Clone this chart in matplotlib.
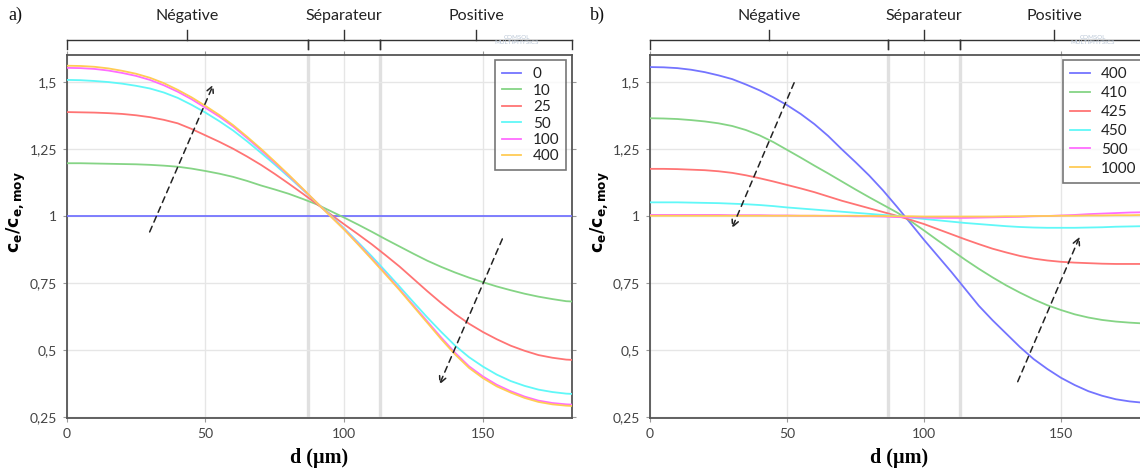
import matplotlib
matplotlib.use("Agg")
import matplotlib.pyplot as plt
from matplotlib.transforms import blended_transform_factory

plt.rcParams['font.family'] = ['Lato', 'DejaVu Sans']
plt.rcParams['mathtext.fontset'] = 'dejavusans'

# ---------------- data ----------------
d = [0, 5, 10, 15, 20, 25, 30, 35, 40, 45, 50, 55, 60, 65, 70, 75, 80, 85, 90, 95,
     100, 105, 110, 115, 120, 125, 130, 135, 140, 145, 150, 155, 160, 165, 170, 175, 180, 182]

# panel a) : times 0..400 s
a_labels = ['0', '10', '25', '50', '100', '400']
a_t0 = [1.0, 1.0, 1.0, 1.0, 1.0, 1.0, 1.0, 1.0, 1.0, 1.0, 1.0, 1.0, 1.0, 1.0, 1.0, 1.0, 1.0, 1.0, 1.0, 1.0,
        1.0, 1.0, 1.0, 1.0, 1.0, 1.0, 1.0, 1.0, 1.0, 1.0, 1.0, 1.0, 1.0, 1.0, 1.0, 1.0, 1.0, 1.0]
a_t10 = [1.196, 1.196, 1.195, 1.194, 1.193, 1.192, 1.19, 1.187, 1.183, 1.176, 1.167, 1.157, 1.145, 1.13,
         1.113, 1.098, 1.082, 1.063, 1.043, 1.018, 0.993, 0.967, 0.94, 0.912, 0.885, 0.858, 0.832, 0.809,
         0.788, 0.769, 0.752, 0.736, 0.722, 0.709, 0.698, 0.689, 0.681, 0.68]
a_t25 = [1.387, 1.386, 1.385, 1.383, 1.38, 1.375, 1.368, 1.358, 1.345, 1.324, 1.30, 1.276, 1.25, 1.221,
         1.19, 1.156, 1.12, 1.083, 1.045, 1.006, 0.968, 0.931, 0.893, 0.852, 0.81, 0.764, 0.718, 0.674,
         0.633, 0.597, 0.566, 0.539, 0.515, 0.496, 0.48, 0.47, 0.463, 0.462]
a_t50 = [1.507, 1.506, 1.503, 1.499, 1.493, 1.485, 1.475, 1.46, 1.44, 1.414, 1.385, 1.353, 1.318, 1.278,
         1.235, 1.191, 1.145, 1.098, 1.05, 1.002, 0.953, 0.901, 0.848, 0.792, 0.735, 0.677, 0.62, 0.566,
         0.515, 0.472, 0.437, 0.407, 0.383, 0.365, 0.351, 0.342, 0.336, 0.335]
a_t100 = [1.552, 1.551, 1.548, 1.542, 1.533, 1.522, 1.507, 1.487, 1.463, 1.435, 1.403, 1.37, 1.333, 1.29,
          1.245, 1.198, 1.15, 1.10, 1.05, 1.0, 0.95, 0.896, 0.84, 0.783, 0.725, 0.665, 0.605, 0.545,
          0.488, 0.438, 0.40, 0.369, 0.345, 0.325, 0.31, 0.301, 0.296, 0.295]
a_t400 = [1.56, 1.559, 1.556, 1.55, 1.541, 1.53, 1.515, 1.495, 1.47, 1.442, 1.41, 1.376, 1.338, 1.295,
          1.25, 1.202, 1.153, 1.102, 1.05, 0.999, 0.948, 0.893, 0.837, 0.78, 0.722, 0.661, 0.60, 0.539,
          0.482, 0.432, 0.394, 0.363, 0.34, 0.32, 0.305, 0.296, 0.291, 0.29]

# panel b) : times 400..1000 s
b_labels = ['400', '410', '425', '450', '500', '1000']
b_t400 = [1.555, 1.554, 1.551, 1.545, 1.536, 1.524, 1.51, 1.49, 1.468, 1.442, 1.413, 1.38, 1.342, 1.298,
          1.248, 1.20, 1.15, 1.095, 1.035, 0.973, 0.91, 0.85, 0.79, 0.727, 0.664, 0.61, 0.56, 0.51,
          0.465, 0.428, 0.395, 0.368, 0.345, 0.328, 0.315, 0.307, 0.302, 0.30]
b_t410 = [1.364, 1.363, 1.361, 1.357, 1.352, 1.345, 1.335, 1.32, 1.30, 1.275, 1.246, 1.217, 1.187, 1.158,
          1.128, 1.098, 1.069, 1.041, 1.013, 0.981, 0.945, 0.908, 0.872, 0.836, 0.802, 0.77, 0.74, 0.713,
          0.688, 0.666, 0.648, 0.632, 0.62, 0.611, 0.605, 0.601, 0.598, 0.598]
b_t425 = [1.175, 1.175, 1.174, 1.172, 1.17, 1.166, 1.16, 1.151, 1.14, 1.128, 1.115, 1.102, 1.088, 1.072,
          1.056, 1.042, 1.028, 1.014, 1.0, 0.985, 0.969, 0.95, 0.931, 0.912, 0.894, 0.877, 0.863, 0.85,
          0.84, 0.833, 0.828, 0.825, 0.823, 0.821, 0.82, 0.82, 0.82, 0.82]
b_t450 = [1.05, 1.05, 1.05, 1.049, 1.048, 1.047, 1.045, 1.043, 1.04, 1.036, 1.031, 1.027, 1.023, 1.019,
          1.015, 1.011, 1.007, 1.003, 0.999, 0.993, 0.988, 0.983, 0.978, 0.973, 0.969, 0.965, 0.961, 0.958,
          0.956, 0.955, 0.955, 0.955, 0.956, 0.957, 0.959, 0.96, 0.961, 0.961]
b_t500 = [1.003, 1.003, 1.003, 1.003, 1.003, 1.003, 1.002, 1.002, 1.002, 1.001, 1.001, 1.0, 1.0, 0.999,
          0.999, 0.998, 0.998, 0.997, 0.995, 0.994, 0.993, 0.992, 0.992, 0.992, 0.993, 0.994, 0.995, 0.996,
          0.998, 0.999, 1.001, 1.003, 1.006, 1.008, 1.01, 1.012, 1.013, 1.013]
b_t1000 = [1.0, 1.0, 1.0, 1.0, 1.0, 1.0, 1.0, 1.0, 1.0, 1.0, 1.0, 1.0, 1.0, 1.0, 1.0, 1.0, 0.999, 0.999,
           0.998, 0.998, 0.997, 0.997, 0.997, 0.997, 0.997, 0.997, 0.998, 0.998, 0.999, 0.999, 1.0, 1.0,
           1.001, 1.001, 1.002, 1.002, 1.003, 1.003]

colors = ['#7474ff', '#85d485', '#ff7474', '#60f8f8', '#ff6cff', '#ffcc55']

region_names = ['Négative', 'Séparateur', 'Positive']
region_bounds = [0, 87, 113, 182]

y_ticks = [0.25, 0.5, 0.75, 1.0, 1.25, 1.5]
y_ticklabels = ['0,25', '0,5', '0,75', '1', '1,25', '1,5']
x_ticks = [0, 50, 100, 150]
x_ticklabels = ['0', '50', '100', '150']

# arrows: (start d, start c), (end d, end c)
a_arrows = [((29.5, 0.93), (53.3, 1.50)), ((157.4, 0.923), (133.9, 0.36))]
b_arrows = [((53.0, 1.506), (29.5, 0.944)), ((133.8, 0.371), (157.2, 0.931))]

# ---------------- figure ----------------
W, H = 1140, 468
fig = plt.figure(figsize=(W / 100, H / 100), dpi=100)

def px(x0, y0, x1, y1):
    return [x0 / W, 1 - y1 / H, (x1 - x0) / W, (y1 - y0) / H]

ax_a = fig.add_axes(px(66.7, 55, 571.7, 418))
ax_b = fig.add_axes(px(650, 55, 1148.7, 418))

spine_col = '#555555'
grid_col = '#e6e6e6'

def style(ax, series, labels, arrows, panel_letter, letter_x, axw, lspace, wm_x):
    ax.set_xlim(0, 182)
    ax.set_ylim(0.245, 1.6)
    for xs in region_bounds[1:3]:
        ax.axvline(xs, color='#e0e0e0', lw=2.4, zorder=0.5)
    ax.set_xticks(x_ticks)
    ax.set_xticklabels(x_ticklabels)
    ax.set_yticks(y_ticks)
    ax.set_yticklabels(y_ticklabels)
    ax.grid(True, color=grid_col, lw=1.0, zorder=0)
    ax.set_axisbelow(True)
    ax.tick_params(axis='both', which='both', direction='out', length=3, width=0.8,
                   color='#999999', labelsize=10, labelcolor='#444444',
                   top=True, right=True, pad=4)
    for s in ax.spines.values():
        s.set_color(spine_col)
        s.set_linewidth(1.3)
    for ys, lab, col in zip(series, labels, colors):
        ax.plot(d, ys, color=col, lw=1.3, label=lab, zorder=3)
    for (x0, y0), (x1, y1) in arrows:
        ax.annotate('', xy=(x1, y1), xytext=(x0, y0),
                    arrowprops=dict(arrowstyle='->', linestyle=(0, (4, 3)),
                                    color='#222222', lw=1.1, mutation_scale=12),
                    zorder=4)
    leg = ax.legend(loc='upper right', frameon=True, fancybox=False,
                    edgecolor='#555555', fontsize=11, handlelength=1.3,
                    handletextpad=0.75, labelspacing=lspace, borderpad=0.45,
                    borderaxespad=0.35)
    leg.get_frame().set_linewidth(1.2)
    for t in leg.get_texts():
        t.set_color('#222222')
    ax.set_xlabel('d (µm)', family=['Liberation Serif', 'DejaVu Serif'],
                  fontweight='bold', fontsize=14.5, labelpad=6)
    ax.set_ylabel(r'$\mathbf{c_e/c_{e,moy}}$', fontsize=12.5, va='center')
    ax.yaxis.set_label_coords(-50 / axw, 0.567)

    # region braces above the axes
    tr = blended_transform_factory(ax.transData, fig.transFigure)
    y_line = 1 - 40 / H
    y_up = 1 - 30 / H
    y_down = 1 - 49 / H
    y_text = 1 - 16 / H
    kw = dict(color='#333333', lw=1.0, transform=tr, clip_on=False)
    for i, name in enumerate(region_names):
        x0, x1 = region_bounds[i], region_bounds[i + 1]
        xm = 0.5 * (x0 + x1)
        ax.plot([x0, x1], [y_line, y_line], **kw)
        ax.plot([xm, xm], [y_line, y_up], **kw)
        ax.plot([x0, x0], [y_line, y_down], **kw)
        ax.plot([x1, x1], [y_line, y_down], **kw)
        ax.text(xm, y_text, name, transform=tr, ha='center', va='center',
                fontsize=11.5, color='#222222')
    fig.text(letter_x / W, 1 - 15 / H, panel_letter,
             family=['Liberation Serif', 'DejaVu Serif'], fontsize=13,
             ha='left', va='center', color='#111111')
    fig.text(wm_x / W, 1 - 40 / H, 'COMSOL\nMULTIPHYSICS', fontsize=4.5,
             color='#b9c6d6', ha='center', va='center', linespacing=1.0)

style(ax_a, [a_t0, a_t10, a_t25, a_t50, a_t100, a_t400], a_labels, a_arrows, 'a)', 8,
      505.0, 0.16, 517)
style(ax_b, [b_t400, b_t410, b_t425, b_t450, b_t500, b_t1000], b_labels, b_arrows, 'b)', 590,
      498.7, 0.32, 1093)

fig.savefig('out.png', dpi=100)
